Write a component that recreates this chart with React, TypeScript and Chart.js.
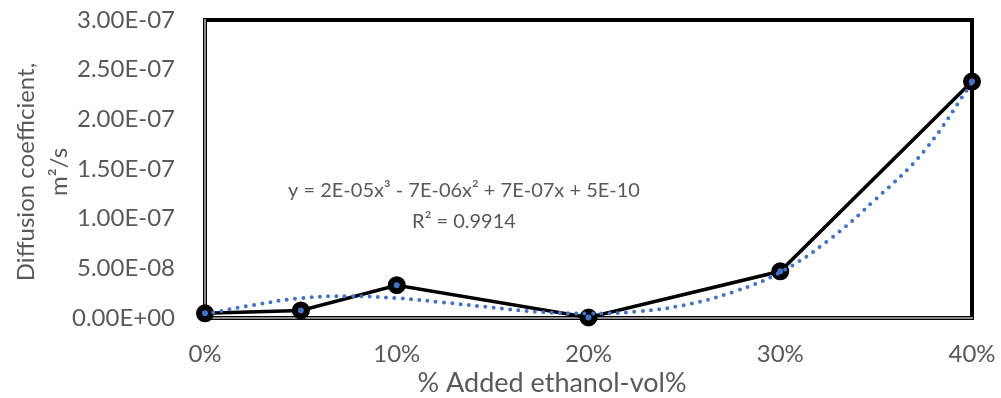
import React, { useEffect, useRef } from "react";
import { Chart, registerables } from "chart.js";

Chart.register(...registerables);

// Observed data
const ethanolFraction = [0, 0.05, 0.1, 0.2, 0.3, 0.4];
const diffusionCoeff = [4.7e-9, 7.6e-9, 3.3e-8, 5e-10, 4.7e-8, 2.38e-7];

// Polynomial trendline
const trendX = [0, 0.025, 0.05, 0.075, 0.1, 0.125, 0.15, 0.175, 0.2, 0.225, 0.25, 0.275, 0.3, 0.325, 0.35, 0.375, 0.4];
const trendY = [4e-9, 13e-9, 20e-9, 22e-9, 20e-9, 15.5e-9, 10.5e-9, 6e-9, 4.5e-9, 6.5e-9, 13e-9, 26e-9, 46e-9, 78e-9, 120e-9, 168e-9, 237e-9];

const xTicks = [0, 0.1, 0.2, 0.3, 0.4];
const yTitleLines = ["Diffusion coefficient,", "m\u00B2/s"];
const xTitle = "% Added ethanol-vol%";
const equationLines = ["y = 2E-05x\u00B3 - 7E-06x\u00B2 + 7E-07x + 5E-10", "R\u00B2 = 0.9914"];

const FONT = "Lato, 'Open Sans', sans-serif";
const TEXT = "#595959";

function fmtExp(v: number): string {
  if (v === 0) return "0.00E+00";
  const s = v.toExponential(2).toUpperCase();
  const [m, e] = s.split("E");
  const sign = e[0] === "-" ? "-" : "+";
  const digits = e.replace(/[+-]/, "").padStart(2, "0");
  return `${m}E${sign}${digits}`;
}

const framePlugin = {
  id: "frame",
  beforeDatasetsDraw(chart: any) {
    const { ctx, chartArea: a } = chart;
    ctx.save();
    ctx.strokeStyle = "#000";
    ctx.lineWidth = 4;
    ctx.strokeRect(a.left, a.top, a.right - a.left, a.bottom - a.top);
    ctx.strokeStyle = "#8a8a8a";
    ctx.lineWidth = 2;
    ctx.beginPath();
    ctx.moveTo(a.left, a.top - 1);
    ctx.lineTo(a.left, a.bottom);
    ctx.lineTo(a.right + 1, a.bottom);
    ctx.stroke();
    ctx.restore();
  },
  afterDraw(chart: any) {
    const { ctx, chartArea: a } = chart;
    ctx.save();
    ctx.fillStyle = TEXT;
    ctx.textAlign = "center";
    ctx.textBaseline = "middle";
    // x title
    ctx.font = `27px ${FONT}`;
    ctx.fillText(xTitle, 552, 383);
    // y title
    ctx.font = `24px ${FONT}`;
    const cy = (a.top + a.bottom) / 2 + 3;
    ctx.save();
    ctx.translate(26, cy);
    ctx.rotate(-Math.PI / 2);
    ctx.fillText(yTitleLines[0], 0, 0);
    ctx.restore();
    ctx.save();
    ctx.translate(59, cy);
    ctx.rotate(-Math.PI / 2);
    ctx.fillText(yTitleLines[1], 0, 0);
    ctx.restore();
    // equation
    ctx.font = `20px ${FONT}`;
    ctx.fillText(equationLines[0], 464, 191);
    ctx.fillText(equationLines[1], 464, 222);
    ctx.restore();
  },
};

export default function App() {
  const ref = useRef<HTMLCanvasElement>(null);
  useEffect(() => {
    document.body.style.margin = "0";
    const chart = new Chart(ref.current!, {
      type: "line",
      data: {
        datasets: [
          {
            label: "Trend",
            data: trendX.map((x, i) => ({ x, y: trendY[i] })),
            borderColor: "#4472C4",
            borderWidth: 4,
            borderDash: [0, 8.3],
            borderCapStyle: "round",
            pointRadius: 0,
            tension: 0.4,
            fill: false,
            clip: false,
            order: 0,
          },
          {
            label: "Data",
            data: ethanolFraction.map((x, i) => ({ x, y: diffusionCoeff[i] })),
            borderColor: "#000",
            borderWidth: 3.5,
            pointRadius: 6,
            pointBorderWidth: 6,
            pointBackgroundColor: "#4472C4",
            pointBorderColor: "#000",
            tension: 0,
            fill: false,
            clip: false,
            order: 1,
          },
        ],
      },
      options: {
        animation: false,
        responsive: true,
        maintainAspectRatio: false,
        layout: { padding: { left: 0, top: 20, right: 29, bottom: 0 } },
        plugins: { legend: { display: false }, tooltip: { enabled: false } },
        scales: {
          x: {
            type: "linear",
            min: 0,
            max: 0.4,
            afterFit(scale: any) {
              scale.height = 80;
              scale.paddingLeft = 0;
              scale.paddingRight = 0;
            },
            afterBuildTicks(scale: any) {
              scale.ticks = xTicks.map((v) => ({ value: v }));
            },
            grid: { display: false, drawTicks: false },
            border: { display: false },
            ticks: {
              padding: 22,
              color: TEXT,
              font: { family: FONT, size: 24 },
              callback: (v: any) => `${Math.round(Number(v) * 100)}%`,
              maxRotation: 0,
            },
          },
          y: {
            type: "linear",
            min: 0,
            max: 3e-7,
            afterFit(scale: any) {
              scale.width = 205;
              scale.paddingTop = 0;
              scale.paddingBottom = 0;
            },
            grid: { display: false, drawTicks: false },
            border: { display: false },
            ticks: {
              stepSize: 5e-8,
              padding: 30,
              color: TEXT,
              font: { family: FONT, size: 24 },
              callback: (v: any) => fmtExp(Number(v)),
            },
          },
        },
      },
      plugins: [framePlugin],
    } as any);
    return () => chart.destroy();
  }, []);
  return (
    <div style={{ position: "absolute", left: 0, top: 0, width: 1001, height: 398 }}>
      <canvas ref={ref} />
    </div>
  );
}
